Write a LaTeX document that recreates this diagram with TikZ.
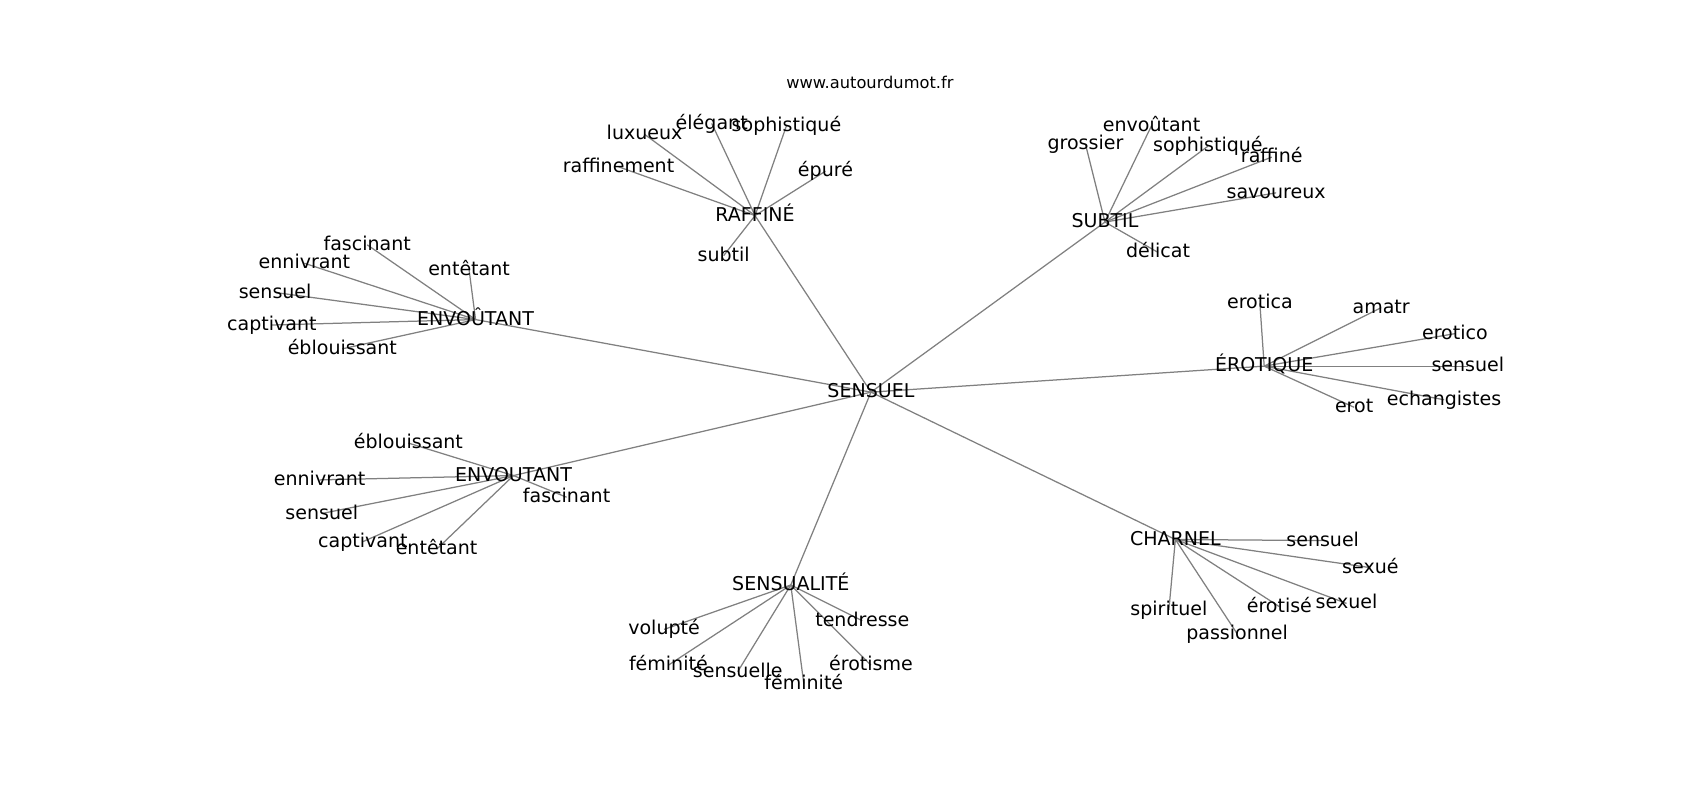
\documentclass[tikz,border=0pt]{standalone}
\usepackage{fontspec}
\setmainfont{DejaVu Sans}
\pgfdeclarelayer{bg}
\pgfsetlayers{bg,main}
\begin{document}
\begin{tikzpicture}[x=0.78pt,y=-0.78pt,
  lbl/.style={font=\fontsize{13.7}{16}\selectfont, text height=0.8em, text depth=0em, inner sep=0pt, anchor=center},
  ttl/.style={font=\fontsize{11.7}{14}\selectfont, inner sep=0pt},
  edge/.style={draw=black!50, line width=0.9pt}]
\useasboundingbox (0,0) rectangle (1569.3,738.5);
\node[ttl] (title) at (803,76) {www.autourdumot.fr};
% center
\node[lbl] (s) at (804,362) {SENSUEL};
% RAFFINE
\node[lbl] (r) at (697,199) {RAFFINÉ};
\node[lbl] (r1) at (595,124) {luxueux};
\node[lbl] (r2) at (657,114) {élégant};
\node[lbl] (r3) at (726,116) {sophistiqué};
\node[lbl] (r4) at (571,154) {raffinement};
\node[lbl] (r5) at (762,158) {épuré};
\node[lbl] (r6) at (668,236) {subtil};
% SUBTIL
\node[lbl] (t) at (1020,205) {SUBTIL};
\node[lbl] (t1) at (1002,133) {grossier};
\node[lbl] (t2) at (1063,116) {envoûtant};
\node[lbl] (t3) at (1115,135) {sophistiqué};
\node[lbl] (t4) at (1174,145) {raffiné};
\node[lbl] (t5) at (1178,178) {savoureux};
\node[lbl] (t6) at (1069,233) {délicat};
% ENVOÛTANT
\node[lbl] (ea) at (439,295) {ENVOÛTANT};
\node[lbl] (ea1) at (339,226) {fascinant};
\node[lbl] (ea2) at (281,243) {ennivrant};
\node[lbl] (ea3) at (433,249) {entêtant};
\node[lbl] (ea4) at (254,270) {sensuel};
\node[lbl] (ea5) at (251,300) {captivant};
\node[lbl] (ea6) at (316,322) {éblouissant};
% ENVOUTANT
\node[lbl] (eb) at (474,439) {ENVOUTANT};
\node[lbl] (eb1) at (377,409) {éblouissant};
\node[lbl] (eb2) at (295,443) {ennivrant};
\node[lbl] (eb3) at (523,459) {fascinant};
\node[lbl] (eb4) at (297,474) {sensuel};
\node[lbl] (eb5) at (335,500) {captivant};
\node[lbl] (eb6) at (403,507) {entêtant};
% EROTIQUE
\node[lbl] (o) at (1167,338) {ÉROTIQUE};
\node[lbl] (o1) at (1163,280) {erotica};
\node[lbl] (o2) at (1275,284) {amatr};
\node[lbl] (o3) at (1343,308) {erotico};
\node[lbl] (o4) at (1355,338) {sensuel};
\node[lbl] (o5) at (1333,369) {echangistes};
\node[lbl] (o6) at (1250,376) {erot};
% CHARNEL
\node[lbl] (c) at (1085,498) {CHARNEL};
\node[lbl] (c1) at (1221,499) {sensuel};
\node[lbl] (c2) at (1265,524) {sexué};
\node[lbl] (c3) at (1243,557) {sexuel};
\node[lbl] (c4) at (1181,560) {érotisé};
\node[lbl] (c5) at (1079,563) {spirituel};
\node[lbl] (c6) at (1142,585) {passionnel};
% SENSUALITE
\node[lbl] (l) at (730,540) {SENSUALITÉ};
\node[lbl] (l1) at (613,581) {volupté};
\node[lbl] (l2) at (796,573) {tendresse};
\node[lbl] (l3) at (617,614) {féminité};
\node[lbl] (l4) at (681,620) {sensuelle};
\node[lbl] (l5) at (742,631) {féminité};
\node[lbl] (l6) at (804,614) {érotisme};
\begin{pgfonlayer}{bg}
\foreach \h in {r,t,ea,eb,o,c,l}
  \draw[edge] (s.center) -- (\h.center);
\foreach \h in {r,t,ea,eb,o,c,l}
  \foreach \i in {1,...,6}
    \draw[edge] (\h.center) -- (\h\i.center);
\end{pgfonlayer}
\end{tikzpicture}
\end{document}
